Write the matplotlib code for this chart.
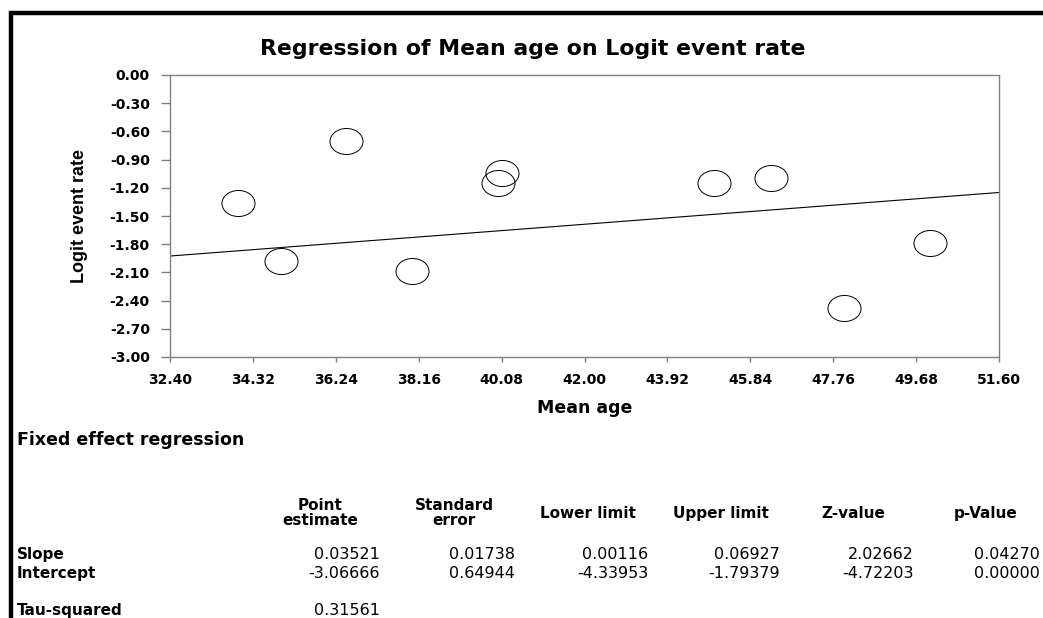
import matplotlib
matplotlib.use("Agg")
import matplotlib.pyplot as plt
from matplotlib.path import Path
from matplotlib.transforms import Affine2D
from matplotlib.lines import Line2D
from matplotlib import font_manager
import numpy as np

# ---- data ----
mean_age = [33.97, 34.97, 36.48, 38.01, 39.99, 40.08, 45.01, 46.31, 48.00, 50.01]
logit_rate = [-1.36, -1.98, -0.70, -2.09, -1.15, -1.04, -1.15, -1.10, -2.48, -1.79]

x_ticks = [32.40, 34.32, 36.24, 38.16, 40.08, 42.00, 43.92, 45.84, 47.76, 49.68, 51.60]
y_ticks = [0.00, -0.30, -0.60, -0.90, -1.20, -1.50, -1.80, -2.10, -2.40, -2.70, -3.00]

slope = 0.03521
intercept = -3.06666

table_cols = ["Point\nestimate", "Standard\nerror", "Lower limit", "Upper limit", "Z-value", "p-Value"]
slope_row = ["0.03521", "0.01738", "0.00116", "0.06927", "2.02662", "0.04270"]
intercept_row = ["-3.06666", "0.64944", "-4.33953", "-1.79379", "-4.72203", "0.00000"]
tau_squared = "0.31561"

# ---- figure ----
W, H = 1043, 618
fig = plt.figure(figsize=(W / 100, H / 100), dpi=100)
fig.patch.set_facecolor("white")

def fx(px):
    return px / W

def fy(py):
    return 1 - py / H

# outer frame (right and bottom edges are cut off in the reference)
fig.add_artist(Line2D([fx(10.5), fx(10.5), fx(1060)], [fy(640), fy(13), fy(13)],
                      transform=fig.transFigure, color="black", lw=3.2,
                      solid_joinstyle="miter"))

left, right, top, bottom = 170, 999, 75, 357
ax = fig.add_axes([fx(left), fy(bottom), fx(right - left), (bottom - top) / H])

gray = "#808080"
for s in ax.spines.values():
    s.set_color(gray)
    s.set_linewidth(1.0)

ax.set_xlim(x_ticks[0], x_ticks[-1])
ax.set_ylim(y_ticks[-1], y_ticks[0])
ax.set_xticks(x_ticks)
ax.set_yticks(y_ticks)
ax.set_xticklabels([f"{v:.2f}" for v in x_ticks], fontweight="bold", fontsize=10)
ax.set_yticklabels([f"{v:.2f}" for v in y_ticks], fontweight="bold", fontsize=10)
ax.tick_params(axis="y", direction="out", length=6.5, width=1, color=gray, pad=8)
ax.tick_params(axis="x", direction="out", length=3.6, width=1, color=gray, pad=8)

# ellipse marker
circ = Path.unit_circle()
ell = Affine2D().scale(1.0, 26 / 33).transform_path(circ)
ax.plot(mean_age, logit_rate, linestyle="none", marker=ell, markersize=23.8,
        markerfacecolor="none", markeredgecolor="black", markeredgewidth=0.7)

xl = np.array([x_ticks[0], x_ticks[-1]])
ax.plot(xl, intercept + slope * xl, color="black", lw=0.8)

# title and axis labels
fig.text(fx(533), fy(55), "Regression of Mean age on Logit event rate",
         ha="center", va="baseline", fontsize=15.8, fontweight="bold")
fig.text(fx(585), fy(408), "Mean age", ha="center", va="center",
         fontsize=12.5, fontweight="bold")

try:
    font_manager.findfont(font_manager.FontProperties(family="Liberation Sans Narrow",
                                                      weight="bold"),
                          fallback_to_default=False)
    ylab_family, ylab_size = "Liberation Sans Narrow", 15.5
except Exception:
    ylab_family, ylab_size = "Liberation Sans", 13
fig.text(fx(79), fy(216), "Logit event rate", rotation=90, ha="center", va="center",
         fontsize=ylab_size, fontweight="bold", family=ylab_family)

# table
fig.text(fx(17), fy(445), "Fixed effect regression", ha="left", va="baseline",
         fontsize=12.5, fontweight="bold")

header_centers = [320, 454, 587.5, 721, 853.5, 986]
num_right = [380, 515, 648, 780, 914, 1040]
for name, cx in zip(table_cols, header_centers):
    if "\n" in name:
        l1, l2 = name.split("\n")
        fig.text(fx(cx), fy(510), l1, ha="center", va="baseline", fontsize=11,
                 fontweight="bold")
        fig.text(fx(cx), fy(525), l2, ha="center", va="baseline", fontsize=11,
                 fontweight="bold")
    else:
        fig.text(fx(cx), fy(518), name, ha="center", va="baseline", fontsize=11,
                 fontweight="bold")

row_labels = ["Slope", "Intercept", "Tau-squared"]
row_base = [559, 578, 615]
for lab, yb in zip(row_labels, row_base):
    fig.text(fx(17), fy(yb), lab, ha="left", va="baseline", fontsize=11,
             fontweight="bold")

for vals, yb in [(slope_row, 559), (intercept_row, 578)]:
    for v, xr in zip(vals, num_right):
        fig.text(fx(xr), fy(yb), v, ha="right", va="baseline", fontsize=11.5)
fig.text(fx(num_right[0]), fy(615), tau_squared, ha="right", va="baseline", fontsize=11.5)

fig.savefig("out.png", dpi=100, facecolor="white")
